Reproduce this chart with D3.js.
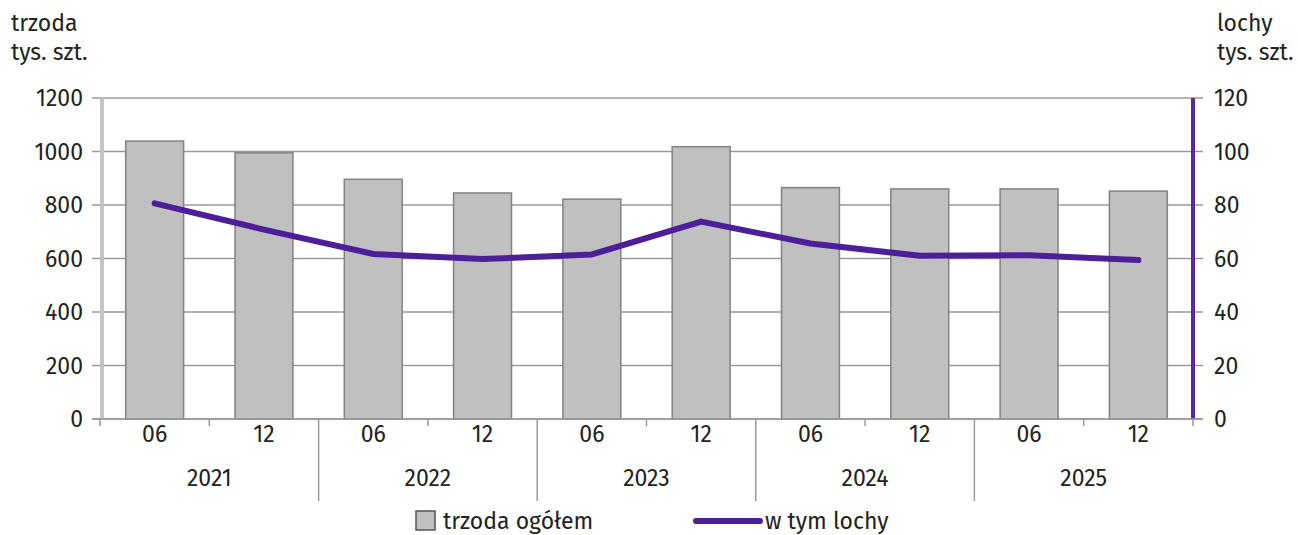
<!DOCTYPE html>
<html>
<head>
<meta charset="utf-8">
<script src="https://cdn.jsdelivr.net/npm/d3@7"></script>
<style>
  body { margin: 0; background: #fff; }
  svg text { font-family: "Fira Sans", "Noto Sans", sans-serif; fill: #222; font-size: 23px; }
</style>
</head>
<body>
<svg id="chart" width="1298" height="535"></svg>
<script>
var years = ["2021", "2022", "2023", "2024", "2025"];
var months = ["06", "12"];
var trzoda = [1039, 995, 896, 845, 822, 1018, 865, 860, 860, 852];
var lochy = [80.6, 70.8, 61.7, 59.8, 61.5, 73.8, 65.6, 61.0, 61.2, 59.4];
var leftTicks = [0, 200, 400, 600, 800, 1000, 1200];
var rightTicks = [0, 20, 40, 60, 80, 100, 120];

var cats = [];
years.forEach(y => months.forEach(m => cats.push({ year: y, month: m, key: y + "-" + m })));
var data = cats.map((c, i) => ({ key: c.key, month: c.month, year: c.year, trzoda: trzoda[i], lochy: lochy[i] }));

var svg = d3.select("#chart"),
  margin = { top: 98, right: 105, bottom: 116, left: 100 },
  width = +svg.attr("width") - margin.left - margin.right,
  height = +svg.attr("height") - margin.top - margin.bottom,
  g = svg.append("g").attr("transform", "translate(" + margin.left + "," + margin.top + ")");

var x = d3.scaleBand().domain(data.map(d => d.key)).range([0, width]).paddingInner(0.47).paddingOuter(0.235);
var yL = d3.scaleLinear().domain([0, 1200]).range([height, 0]);
var yR = d3.scaleLinear().domain([0, 120]).range([height, 0]);
var step = x.step();

// gridlines
g.append("g")
  .selectAll("line")
  .data(leftTicks)
  .enter().append("line")
    .attr("x1", -8).attr("x2", width + 10)
    .attr("y1", d => yL(d)).attr("y2", d => yL(d))
    .attr("stroke", "#9a9a9a").attr("stroke-width", 1.5);

// left axis bar
g.append("line")
  .attr("x1", 2).attr("x2", 2).attr("y1", 0).attr("y2", height)
  .attr("stroke", "#c4c4c4").attr("stroke-width", 4);

// bars
g.selectAll("rect.bar")
  .data(data)
  .enter().append("rect")
    .attr("class", "bar")
    .attr("x", d => x(d.key))
    .attr("width", x.bandwidth())
    .attr("y", d => yL(d.trzoda))
    .attr("height", d => height - yL(d.trzoda))
    .attr("fill", "#c0c0c0")
    .attr("stroke", "#828282")
    .attr("stroke-width", 1.5);

// right axis bar
g.append("line")
  .attr("x1", width).attr("x2", width).attr("y1", 0).attr("y2", height)
  .attr("stroke", "#5a2a9c").attr("stroke-width", 4);

// line
var line = d3.line()
  .x(d => x(d.key) + x.bandwidth() / 2)
  .y(d => yR(d.lochy));

g.append("path")
  .datum(data)
  .attr("fill", "none")
  .attr("stroke", "#4c1f99")
  .attr("stroke-width", 6)
  .attr("stroke-linejoin", "round")
  .attr("stroke-linecap", "round")
  .attr("d", line);

// left tick labels
g.append("g")
  .selectAll("text")
  .data(leftTicks)
  .enter().append("text")
    .attr("x", -17)
    .attr("y", d => yL(d))
    .attr("dy", "0.36em")
    .attr("text-anchor", "end")
    .text(d => d);

// right tick labels
g.append("g")
  .selectAll("text")
  .data(rightTicks)
  .enter().append("text")
    .attr("x", width + 21)
    .attr("y", d => yR(d))
    .attr("dy", "0.36em")
    .attr("text-anchor", "start")
    .text(d => d);

// x axis baseline
g.append("line")
  .attr("x1", -8).attr("x2", width + 10)
  .attr("y1", height).attr("y2", height)
  .attr("stroke", "#9a9a9a").attr("stroke-width", 1.5);

// category boundary ticks
var bounds = d3.range(0, data.length + 1);
g.append("g")
  .selectAll("line")
  .data(bounds)
  .enter().append("line")
    .attr("x1", i => i * step).attr("x2", i => i * step)
    .attr("y1", height)
    .attr("y2", i => (i % 2 === 0 && i > 0 && i < data.length) ? height + 82 : height + 7)
    .attr("stroke", "#9a9a9a").attr("stroke-width", 1.5);

// month labels
g.append("g")
  .selectAll("text")
  .data(data)
  .enter().append("text")
    .attr("x", d => x(d.key) + x.bandwidth() / 2)
    .attr("y", height + 23)
    .attr("text-anchor", "middle")
    .text(d => d.month);

// year labels
g.append("g")
  .selectAll("text")
  .data(years)
  .enter().append("text")
    .attr("x", (d, i) => (i * 2 + 1) * step)
    .attr("y", height + 67)
    .attr("text-anchor", "middle")
    .text(d => d);

// axis titles
svg.append("text").attr("x", 11).attr("y", 31).text("trzoda");
svg.append("text").attr("x", 11).attr("y", 60).text("tys. szt.");
svg.append("text").attr("x", 1217).attr("y", 31).text("lochy");
svg.append("text").attr("x", 1217).attr("y", 60).text("tys. szt.");

// legend
var lg = svg.append("g");
lg.append("rect")
  .attr("x", 416).attr("y", 511).attr("width", 19).attr("height", 19)
  .attr("fill", "#c0c0c0").attr("stroke", "#555").attr("stroke-width", 1.5);
lg.append("text").attr("x", 443).attr("y", 529).text("trzoda ogółem");
lg.append("line")
  .attr("x1", 696).attr("x2", 760).attr("y1", 521).attr("y2", 521)
  .attr("stroke", "#4c1f99").attr("stroke-width", 6).attr("stroke-linecap", "round");
lg.append("text").attr("x", 765).attr("y", 529).text("w tym lochy");
</script>
</body>
</html>
